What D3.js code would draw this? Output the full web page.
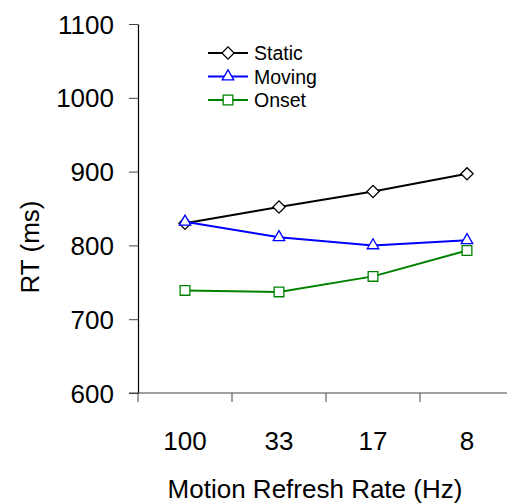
<!DOCTYPE html>
<html><head><meta charset="utf-8">
<script src="https://cdn.jsdelivr.net/npm/d3@7"></script>
<style>body{margin:0;background:#fff}svg{display:block}text{font-family:"Liberation Sans",Arial,sans-serif;fill:#000}</style>
</head><body><svg id="c" width="507" height="504"></svg>
<script>
const categories = ["100", "33", "17", "8"];
const seriesNames = ["Static", "Moving", "Onset"];
const staticRT = [830, 852, 873, 897];
const movingRT = [832, 811, 800, 807];
const onsetRT = [739, 737, 758, 793];
const yTicks = [600, 700, 800, 900, 1000, 1100];
const xTitle = "Motion Refresh Rate (Hz)";
const yTitle = "RT (ms)";

const series = [
  {name: seriesNames[0], values: staticRT, color: "#000000", shape: "diamond"},
  {name: seriesNames[1], values: movingRT, color: "#0000ff", shape: "triangle"},
  {name: seriesNames[2], values: onsetRT, color: "#008000", shape: "square"}
];

const svg = d3.select("#c");
const x = d3.scaleBand().domain(categories).range([138, 514]);
const y = d3.scaleLinear().domain([600, 1100]).range([393, 24]);

// y axis
const ya = svg.append("g").attr("transform", "translate(138,0)")
  .call(d3.axisLeft(y).tickValues(yTicks).tickFormat(d3.format("d")).tickSize(9).tickPadding(15).tickSizeOuter(0));
ya.attr("font-family", null).attr("font-size", null);
ya.select(".domain").attr("stroke", "#000").attr("stroke-width", 1.2);
ya.selectAll(".tick line").attr("stroke", "#444");
ya.selectAll(".tick text").style("font-size", "26px").attr("dy", "0.35em");

// x axis
const xa = svg.append("g").attr("transform", "translate(0,393)");
xa.append("line").attr("x1", 129).attr("x2", 514).attr("stroke", "#444").attr("stroke-width", 1.2);
const bounds = categories.map(c => x(c)).concat([x.range()[1]]);
xa.selectAll(".bt").data(bounds).join("line")
  .attr("x1", d => d).attr("x2", d => d).attr("y1", 0).attr("y2", 9).attr("stroke", "#444");
xa.selectAll(".lbl").data(categories).join("text")
  .attr("x", d => x(d) + x.bandwidth() / 2).attr("y", 57)
  .attr("text-anchor", "middle").style("font-size", "26px").text(d => d);

// titles
svg.append("text").attr("x", 315).attr("y", 498).attr("text-anchor", "middle")
  .style("font-size", "26px").text(xTitle);
svg.append("text").attr("transform", "translate(39,247) rotate(-90)").attr("text-anchor", "middle")
  .style("font-size", "26px").text(yTitle);

function markerPath(shape) {
  if (shape === "diamond") return d3.symbol().type(d3.symbolSquare2).size(95)();
  if (shape === "triangle") return d3.symbol().type(d3.symbolTriangle2).size(95)();
  return d3.symbol().type(d3.symbolSquare2).size(120)();
}
function markerTransform(shape, cx, cy) {
  return shape === "diamond" ? `translate(${cx},${cy}) rotate(45)` : `translate(${cx},${cy})`;
}

const line = d3.line().x((d, i) => x(categories[i]) + x.bandwidth() / 2).y(d => y(d));
series.forEach(s => {
  const g = svg.append("g");
  g.append("path").datum(s.values).attr("d", line).attr("fill", "none")
    .attr("stroke", s.color).attr("stroke-width", 2);
  g.selectAll("path.m").data(s.values).join("path").attr("class", "m")
    .attr("d", markerPath(s.shape))
    .attr("transform", (d, i) => markerTransform(s.shape, x(categories[i]) + x.bandwidth() / 2, y(d)))
    .attr("fill", "#fff").attr("stroke", s.color).attr("stroke-width", 1.3);
});

// legend
const lg = svg.append("g");
series.forEach((s, i) => {
  const cy = 53 + i * 23.5;
  lg.append("line").attr("x1", 208).attr("x2", 248).attr("y1", cy).attr("y2", cy)
    .attr("stroke", s.color).attr("stroke-width", 2);
  lg.append("path").attr("d", markerPath(s.shape)).attr("transform", markerTransform(s.shape, 228, cy))
    .attr("fill", "#fff").attr("stroke", s.color).attr("stroke-width", 1.3);
  lg.append("text").attr("x", 254).attr("y", cy + 7).style("font-size", "19.5px").text(s.name);
});
</script></body></html>
